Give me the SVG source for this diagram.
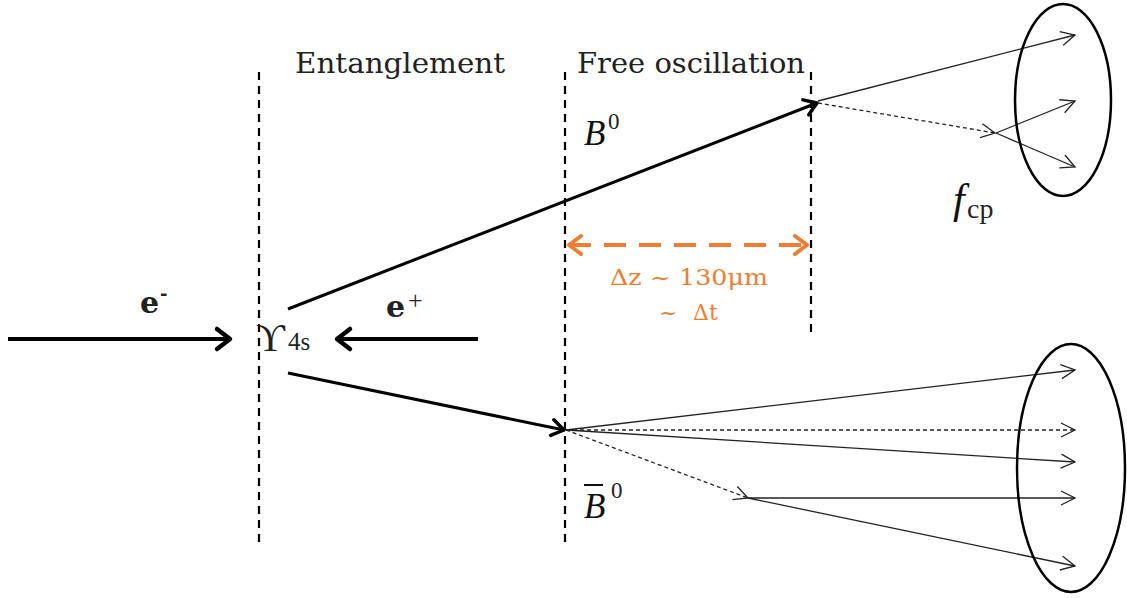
<svg xmlns="http://www.w3.org/2000/svg" width="1127" height="598" viewBox="0 0 1127 598">
<style>
.bg{fill:#fff}
.vd{stroke:#000;stroke-width:2.2;stroke-dasharray:8 6;fill:none}
.thick{stroke:#000;stroke-width:4;fill:none}
.med{stroke:#000;stroke-width:3;fill:none}
.thin{stroke:#222;stroke-width:1.3;fill:none}
.thind{stroke:#222;stroke-width:1.3;fill:none;stroke-dasharray:4 3}
.ell{stroke:#000;stroke-width:2.5;fill:none}
.orange{stroke:#ED7D31;stroke-width:4;fill:none;stroke-dasharray:22 13}
.lbl{font-family:"DejaVu Serif","Liberation Serif",serif;fill:#222}
.it{font-family:"Liberation Serif","DejaVu Serif",serif;font-style:italic;fill:#111}
.rm{font-family:"Liberation Serif","DejaVu Serif",serif;fill:#222}
.otxt{font-family:"DejaVu Serif","Liberation Serif",serif;fill:#ED7D31;font-size:22px}
</style>
<defs>
<marker id="hThick" markerUnits="userSpaceOnUse" viewBox="-16 -12 20 24" refX="0" refY="0" markerWidth="20" markerHeight="24" orient="auto" overflow="visible">
<path d="M-13,-10 L0,0 L-13,10" fill="none" stroke="#000" stroke-width="4.5" stroke-linecap="round" stroke-linejoin="round"/>
</marker>
<marker id="hMed" markerUnits="userSpaceOnUse" viewBox="-16 -12 20 24" refX="0" refY="0" markerWidth="20" markerHeight="24" orient="auto" overflow="visible">
<path d="M-12,-8 L0,0 L-12,8" fill="none" stroke="#000" stroke-width="3.5" stroke-linecap="round" stroke-linejoin="round"/>
</marker>
<marker id="hThin" markerUnits="userSpaceOnUse" viewBox="-16 -10 20 20" refX="0" refY="0" markerWidth="20" markerHeight="20" orient="auto" overflow="visible">
<path d="M-14,-7 L0,0 L-14,7" fill="none" stroke="#222" stroke-width="1.3"/>
</marker>
<marker id="hOr" markerUnits="userSpaceOnUse" viewBox="-16 -12 20 24" refX="0" refY="0" markerWidth="20" markerHeight="24" orient="auto-start-reverse" overflow="visible">
<path d="M-12,-9 L0,0 L-12,9" fill="none" stroke="#ED7D31" stroke-width="4" stroke-linecap="round" stroke-linejoin="round"/>
</marker>
</defs>
<rect class="bg" x="0" y="0" width="1127" height="598"/>

<g id="boundaries">
<line class="vd" x1="259" y1="72" x2="259" y2="548"/>
<line class="vd" x1="565" y1="72" x2="565" y2="548"/>
<line class="vd" x1="811" y1="72" x2="811" y2="333"/>
</g>

<g id="phase-labels">
<text class="lbl" x="400" y="73" font-size="28" text-anchor="middle" textLength="210" lengthAdjust="spacingAndGlyphs">Entanglement</text>
<text class="lbl" x="691" y="73" font-size="28" text-anchor="middle" textLength="228" lengthAdjust="spacingAndGlyphs">Free oscillation</text>
</g>

<g id="connectors">
<line class="thick" x1="8" y1="339" x2="230" y2="339" marker-end="url(#hThick)"/>
<line class="thick" x1="478" y1="339" x2="337" y2="339" marker-end="url(#hThick)"/>
<line class="med" x1="288" y1="309" x2="817" y2="103" marker-end="url(#hMed)"/>
<line class="med" x1="288" y1="373" x2="564" y2="430" marker-end="url(#hMed)"/>
<line class="orange" x1="569" y1="245" x2="807" y2="245" marker-start="url(#hOr)" marker-end="url(#hOr)"/>
<line class="thin" x1="818" y1="101" x2="1075" y2="35" marker-end="url(#hThin)"/>
<line class="thind" x1="818" y1="103" x2="995" y2="133" marker-end="url(#hThin)"/>
<line class="thin" x1="996" y1="133" x2="1075" y2="101" marker-end="url(#hThin)"/>
<line class="thin" x1="996" y1="133" x2="1075" y2="167" marker-end="url(#hThin)"/>
<line class="thin" x1="566" y1="430" x2="1075" y2="370" marker-end="url(#hThin)"/>
<line class="thind" x1="566" y1="430" x2="1075" y2="430" marker-end="url(#hThin)"/>
<line class="thin" x1="566" y1="430" x2="1075" y2="462" marker-end="url(#hThin)"/>
<line class="thind" x1="566" y1="430" x2="748" y2="498" marker-end="url(#hThin)"/>
<line class="thin" x1="748" y1="498" x2="1075" y2="498" marker-end="url(#hThin)"/>
<line class="thin" x1="748" y1="498" x2="1075" y2="566" marker-end="url(#hThin)"/>
</g>

<g id="eminus">
<text class="lbl" x="140" y="313" font-size="30" font-weight="bold">e</text>
<text class="lbl" x="160" y="300" font-size="18" font-weight="bold">-</text>
</g>

<g id="eplus">
<text class="lbl" x="386" y="317" font-size="30" font-weight="bold">e</text>
<text class="rm" x="408" y="309" font-size="26">+</text>
</g>

<g id="upsilon">
<text class="rm" x="256" y="351" font-size="40">ϒ</text>
<text class="rm" x="288" y="350" font-size="25">4s</text>
</g>

<g id="B0">
<text class="it" x="584" y="145" font-size="35">B</text>
<text class="rm" x="608" y="129" font-size="23">0</text>
</g>

<g id="B0bar">
<line x1="584" y1="485" x2="603" y2="485" stroke="#111" stroke-width="2"/>
<text class="it" x="584" y="518" font-size="35">B</text>
<text class="rm" x="611" y="498" font-size="23">0</text>
</g>

<g id="deltaz">
<text class="otxt" x="689" y="285" text-anchor="middle" textLength="158" lengthAdjust="spacingAndGlyphs">Δz ~ 130μm</text>
<text class="otxt" y="320"><tspan x="659">~</tspan><tspan x="693">Δt</tspan></text>
</g>

<g id="fcp-ellipse">
<ellipse class="ell" cx="1063" cy="100" rx="48" ry="96"/>
<text class="it" x="953" y="213" font-size="42">f</text>
<text class="rm" x="967" y="218" font-size="28">cp</text>
</g>

<g id="final-ellipse">
<ellipse class="ell" cx="1071" cy="468" rx="54" ry="124"/>
</g>
</svg>
